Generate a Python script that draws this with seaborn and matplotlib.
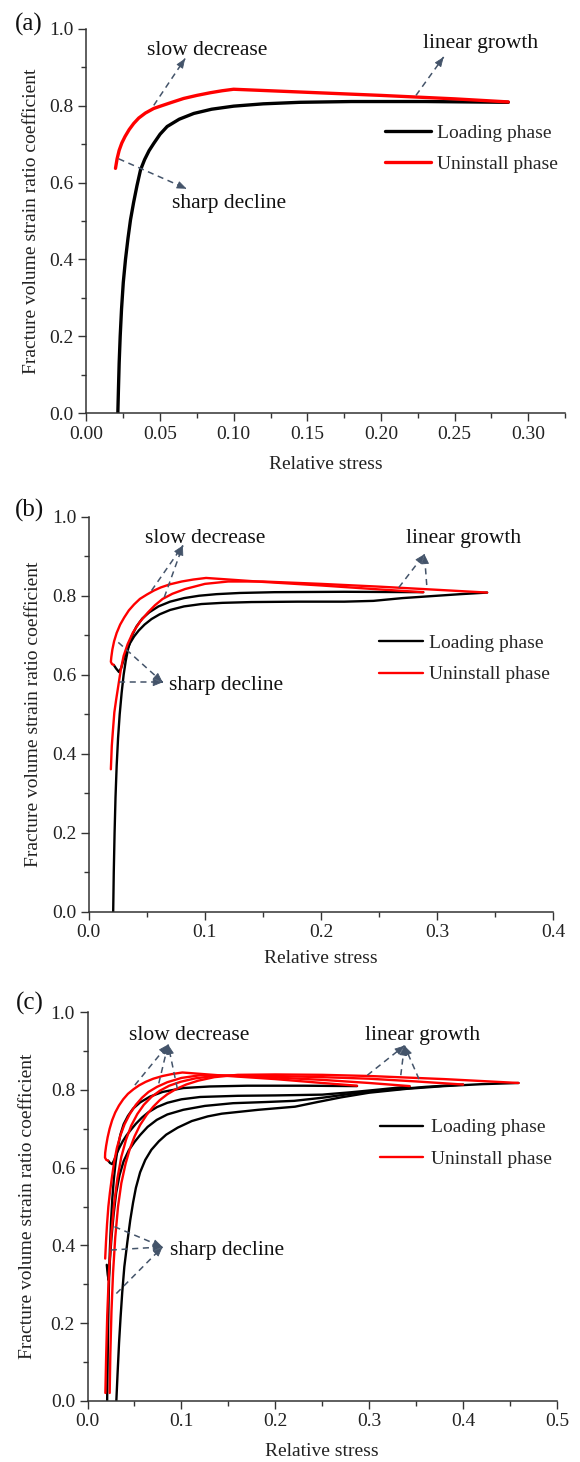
import numpy as np
import pandas as pd
import matplotlib
matplotlib.use("Agg")
import matplotlib.pyplot as plt
import seaborn as sns
from matplotlib.lines import Line2D
from matplotlib.ticker import MultipleLocator, FormatStrFormatter

# ---------------- data: panel (a) ----------------
a_load_x = [0.0213, 0.0217, 0.0222, 0.0229, 0.0238, 0.0250, 0.0265, 0.0282, 0.0299, 0.0320, 0.0343, 0.0367,
            0.0395, 0.0425, 0.0457, 0.0500, 0.0548, 0.0630, 0.0729, 0.0850, 0.1000, 0.1200, 0.1450, 0.1800,
            0.2300, 0.2865]
a_load_y = [0.000, 0.060, 0.130, 0.200, 0.270, 0.340, 0.400, 0.455, 0.503, 0.548, 0.592, 0.633,
            0.660, 0.683, 0.702, 0.726, 0.746, 0.765, 0.780, 0.791, 0.799, 0.805, 0.809, 0.811,
            0.811, 0.809]
a_unl_x = [0.2865, 0.2500, 0.2000, 0.1500, 0.0999, 0.0920, 0.0842, 0.0750, 0.0660, 0.0580, 0.0510, 0.0457,
           0.0400, 0.0355, 0.0321, 0.0290, 0.0262, 0.0240, 0.0222, 0.0208, 0.0197]
a_unl_y = [0.810, 0.818, 0.827, 0.835, 0.843, 0.839, 0.834, 0.827, 0.819, 0.809, 0.800, 0.793,
           0.781, 0.768, 0.754, 0.738, 0.720, 0.703, 0.684, 0.662, 0.637]

# ---------------- data: panel (b) ----------------
b_l1_x = [0.0210, 0.0215, 0.0222, 0.0230, 0.0240, 0.0252, 0.0266, 0.0283, 0.0300, 0.0318, 0.0340, 0.0370,
          0.0410, 0.0460, 0.0520, 0.0600, 0.0700, 0.0820, 0.0950, 0.1100, 0.1300, 0.1600, 0.2200, 0.2880]
b_l1_y = [0.000, 0.100, 0.200, 0.290, 0.370, 0.440, 0.500, 0.555, 0.600, 0.635, 0.668, 0.698,
          0.722, 0.742, 0.758, 0.773, 0.785, 0.794, 0.800, 0.804, 0.807, 0.809, 0.810, 0.809]
b_u1_x = [0.2880, 0.2500, 0.2000, 0.1500, 0.1010, 0.0900, 0.0800, 0.0700, 0.0620, 0.0560, 0.0500, 0.0440,
          0.0390, 0.0345, 0.0305, 0.0270, 0.0240, 0.0218, 0.0203, 0.0194, 0.0190, 0.0200, 0.0215]
b_u1_y = [0.809, 0.816, 0.826, 0.835, 0.845, 0.841, 0.836, 0.829, 0.821, 0.813, 0.803, 0.792,
          0.778, 0.763, 0.745, 0.727, 0.706, 0.685, 0.664, 0.645, 0.633, 0.627, 0.625]
b_l2_x = [0.0215, 0.0235, 0.0260, 0.0280, 0.0300, 0.0325, 0.0355, 0.0390, 0.0430, 0.0480, 0.0540, 0.0610,
          0.0700, 0.0820, 0.0970, 0.1150, 0.1400, 0.1800, 0.2200, 0.2450, 0.2700, 0.3000, 0.3200, 0.3430]
b_l2_y = [0.625, 0.616, 0.607, 0.618, 0.638, 0.660, 0.680, 0.697, 0.712, 0.727, 0.741, 0.753,
          0.764, 0.773, 0.779, 0.782, 0.784, 0.785, 0.785, 0.787, 0.794, 0.800, 0.804, 0.808]
b_u2_x = [0.3430, 0.3000, 0.2500, 0.2000, 0.1500, 0.1200, 0.1000, 0.0830, 0.0720, 0.0636, 0.0570, 0.0510,
          0.0440, 0.0380, 0.0335, 0.0300, 0.0275, 0.0254, 0.0236, 0.0220, 0.0208, 0.0198, 0.0190]
b_u2_y = [0.808, 0.815, 0.823, 0.830, 0.836, 0.836, 0.830, 0.817, 0.805, 0.792, 0.776, 0.758,
          0.734, 0.707, 0.678, 0.648, 0.612, 0.572, 0.538, 0.505, 0.460, 0.420, 0.361]

# ---------------- data: panel (c) ----------------
c_l1_x = [0.0209, 0.0214, 0.0220, 0.0228, 0.0238, 0.0250, 0.0264, 0.0280, 0.0300, 0.0322, 0.0350, 0.0385,
          0.0430, 0.0485, 0.0560, 0.0666, 0.0800, 0.1020, 0.1300, 0.1700, 0.2300, 0.2870]
c_l1_y = [0.000, 0.100, 0.200, 0.300, 0.390, 0.460, 0.520, 0.570, 0.615, 0.652, 0.685, 0.712,
          0.733, 0.752, 0.768, 0.783, 0.795, 0.805, 0.809, 0.811, 0.811, 0.810]
c_u1_x = [0.2870, 0.2500, 0.2000, 0.1500, 0.1010, 0.0900, 0.0800, 0.0700, 0.0620, 0.0550, 0.0490, 0.0430,
          0.0380, 0.0335, 0.0295, 0.0262, 0.0235, 0.0214, 0.0198, 0.0188, 0.0186, 0.0200, 0.0220]
c_u1_y = [0.811, 0.818, 0.828, 0.836, 0.845, 0.841, 0.836, 0.829, 0.821, 0.812, 0.802, 0.790,
          0.776, 0.760, 0.742, 0.722, 0.700, 0.678, 0.656, 0.638, 0.626, 0.620, 0.618]
c_l2_x = [0.0220, 0.0240, 0.0262, 0.0285, 0.0310, 0.0340, 0.0375, 0.0415, 0.0460, 0.0515, 0.0580, 0.0650,
          0.0740, 0.0850, 0.1000, 0.1200, 0.1600, 0.2000, 0.2500, 0.2800, 0.3100, 0.3430]
c_l2_y = [0.618, 0.612, 0.609, 0.620, 0.636, 0.652, 0.668, 0.683, 0.697, 0.713, 0.729, 0.743,
          0.756, 0.767, 0.776, 0.782, 0.785, 0.786, 0.788, 0.794, 0.801, 0.809]
c_u2_x = [0.3430, 0.3000, 0.2500, 0.2000, 0.1500, 0.1200, 0.1000, 0.0850, 0.0740, 0.0650, 0.0580, 0.0515,
          0.0450, 0.0395, 0.0350, 0.0312, 0.0282, 0.0258, 0.0238, 0.0222, 0.0208, 0.0197, 0.0188]
c_u2_y = [0.810, 0.818, 0.826, 0.832, 0.837, 0.838, 0.831, 0.820, 0.808, 0.795, 0.780, 0.762,
          0.738, 0.712, 0.683, 0.650, 0.612, 0.572, 0.535, 0.500, 0.455, 0.410, 0.366]
c_l3_x = [0.0205, 0.0215, 0.0225, 0.0238, 0.0255, 0.0278, 0.0305, 0.0340, 0.0385, 0.0440, 0.0500, 0.0560,
          0.0640, 0.0737, 0.0850, 0.1020, 0.1250, 0.1550, 0.1900, 0.2200, 0.2500, 0.2800, 0.3200, 0.3600,
          0.4000]
c_l3_y = [0.350, 0.325, 0.310, 0.360, 0.420, 0.480, 0.535, 0.580, 0.617, 0.645, 0.666, 0.684,
          0.705, 0.723, 0.737, 0.749, 0.759, 0.766, 0.769, 0.772, 0.780, 0.790, 0.800, 0.808,
          0.814]
c_u3_x = [0.4000, 0.3500, 0.3000, 0.2500, 0.2000, 0.1600, 0.1350, 0.1150, 0.0990, 0.0870, 0.0770, 0.0680,
          0.0600, 0.0530, 0.0465, 0.0410, 0.0360, 0.0318, 0.0282, 0.0252, 0.0228, 0.0210, 0.0198, 0.0190]
c_u3_y = [0.814, 0.822, 0.829, 0.833, 0.836, 0.838, 0.836, 0.830, 0.821, 0.811, 0.798, 0.782,
          0.762, 0.738, 0.708, 0.672, 0.628, 0.572, 0.505, 0.425, 0.330, 0.220, 0.110, 0.020]
c_l4_x = [0.0307, 0.0320, 0.0336, 0.0352, 0.0370, 0.0392, 0.0425, 0.0455, 0.0485, 0.0515, 0.0560, 0.0615,
          0.0680, 0.0760, 0.0838, 0.0960, 0.1110, 0.1280, 0.1430, 0.1820, 0.2210, 0.2450, 0.2700, 0.3000,
          0.3400, 0.3800, 0.4200, 0.4590]
c_l4_y = [0.000, 0.070, 0.150, 0.215, 0.280, 0.345, 0.410, 0.465, 0.510, 0.548, 0.588, 0.620,
          0.646, 0.668, 0.685, 0.703, 0.720, 0.732, 0.739, 0.749, 0.757, 0.769, 0.781, 0.793,
          0.803, 0.810, 0.815, 0.818]
c_u4_x = [0.4590, 0.4200, 0.3800, 0.3400, 0.3000, 0.2500, 0.2000, 0.1600, 0.1350, 0.1180, 0.1050, 0.0940,
          0.0850, 0.0770, 0.0700, 0.0630, 0.0560, 0.0500, 0.0450, 0.0405, 0.0360, 0.0325, 0.0295, 0.0272,
          0.0255, 0.0243, 0.0236]
c_u4_y = [0.818, 0.823, 0.828, 0.832, 0.836, 0.839, 0.840, 0.839, 0.833, 0.824, 0.814, 0.802,
          0.789, 0.774, 0.757, 0.736, 0.710, 0.680, 0.648, 0.610, 0.560, 0.500, 0.420, 0.330,
          0.230, 0.120, 0.020]

phase_names = ["Loading phase", "Uninstall phase"]
x_label = "Relative stress"
y_label = "Fracture volume strain ratio coefficient"
panel_tags = ["(a)", "(b)", "(c)"]

# annotations: (text, text_xy, [(tail, head), ...])
ann_a = [("slow decrease", (0.082, 0.944), [((0.0457, 0.801), (0.067, 0.923))]),
         ("linear growth", (0.268, 0.962), [((0.2238, 0.827), (0.2426, 0.927))]),
         ("sharp decline", (0.097, 0.545), [((0.0218, 0.662), (0.068, 0.584))])]
ann_b = [("slow decrease", (0.100, 0.945), [((0.054, 0.813), (0.081, 0.927)), ((0.065, 0.796), (0.081, 0.927))]),
         ("linear growth", (0.323, 0.945), [((0.267, 0.821), (0.289, 0.905)), ((0.291, 0.827), (0.289, 0.905))]),
         ("sharp decline", (0.118, 0.572), [((0.0254, 0.682), (0.0636, 0.581)), ((0.026, 0.581), (0.0636, 0.581))])]
ann_c = [("slow decrease", (0.108, 0.941), [((0.0504, 0.8125), (0.0858, 0.917)), ((0.0759, 0.817), (0.0858, 0.917)),
                                            ((0.0956, 0.804), (0.0858, 0.917))]),
         ("linear growth", (0.357, 0.941), [((0.298, 0.838), (0.3375, 0.914)), ((0.3336, 0.838), (0.3375, 0.914)),
                                            ((0.353, 0.828), (0.3375, 0.914))]),
         ("sharp decline", (0.149, 0.388), [((0.0287, 0.448), (0.0799, 0.396)), ((0.0248, 0.388), (0.0799, 0.396)),
                                            ((0.0307, 0.276), (0.0799, 0.396))])]

# ---------------- styling ----------------
sns.set_theme(style="ticks")
plt.rcParams["font.family"] = ["Liberation Serif", "DejaVu Serif"]
plt.rcParams["axes.linewidth"] = 1.1
plt.rcParams["axes.edgecolor"] = "#333333"

FS = 14
FS_ANN = 15.5
ANN_COLOR = "#44546a"
palette = {phase_names[0]: "black", phase_names[1]: "#ff0000"}


def build_df(segments):
    frames = []
    for i, (phase, xs, ys) in enumerate(segments):
        frames.append(pd.DataFrame({"x": xs, "y": ys, "phase": phase, "segment": f"s{i}"}))
    return pd.concat(frames, ignore_index=True)


df_a = build_df([(phase_names[0], a_load_x, a_load_y), (phase_names[1], a_unl_x, a_unl_y)])
df_b = build_df([(phase_names[0], b_l1_x, b_l1_y), (phase_names[1], b_u1_x, b_u1_y),
                 (phase_names[0], b_l2_x, b_l2_y), (phase_names[1], b_u2_x, b_u2_y)])
df_c = build_df([(phase_names[0], c_l1_x, c_l1_y), (phase_names[1], c_u1_x, c_u1_y),
                 (phase_names[0], c_l2_x, c_l2_y), (phase_names[1], c_u2_x, c_u2_y),
                 (phase_names[0], c_l3_x, c_l3_y), (phase_names[1], c_u3_x, c_u3_y),
                 (phase_names[0], c_l4_x, c_l4_y), (phase_names[1], c_u4_x, c_u4_y)])

fig = plt.figure(figsize=(5.8, 14.62), dpi=100)

panels = [
    dict(df=df_a, rect=[0.1491, 0.7175, 0.8250, 0.2627], xmax=0.325, xmaj=0.05, xmin=0.025, xfmt="%.2f",
         lw=2.4, ann=ann_a, leg_anchor=(0.623, 0.752), hl=2.4, hp=0.3, xl=-0.135, yl=-0.115,
         tag_xy=(29, 24)),
    dict(df=df_b, rect=[0.1531, 0.3762, 0.8009, 0.2704], xmax=0.4, xmaj=0.1, xmin=0.05, xfmt="%.1f",
         lw=1.7, ann=ann_b, leg_anchor=(0.624, 0.702), hl=2.3, hp=0.3, xl=-0.117, yl=-0.12,
         tag_xy=(30, 510)),
    dict(df=df_c, rect=[0.1509, 0.0419, 0.8095, 0.2657], xmax=0.5, xmaj=0.1, xmin=0.05, xfmt="%.1f",
         lw=1.7, ann=ann_c, leg_anchor=(0.624, 0.726), hl=2.2, hp=0.4, xl=-0.131, yl=-0.128,
         tag_xy=(30, 1003)),
]

for i, p in enumerate(panels):
    ax = fig.add_axes(p["rect"])
    sns.lineplot(data=p["df"], x="x", y="y", hue="phase", units="segment", estimator=None, sort=False,
                 palette=palette, linewidth=p["lw"], legend=False, ax=ax)
    ax.set_xlim(0, p["xmax"])
    ax.set_ylim(0, 1.0)
    ax.xaxis.set_major_locator(MultipleLocator(p["xmaj"]))
    ax.xaxis.set_minor_locator(MultipleLocator(p["xmin"]))
    ax.xaxis.set_major_formatter(FormatStrFormatter(p["xfmt"]))
    ax.yaxis.set_major_locator(MultipleLocator(0.2))
    ax.yaxis.set_minor_locator(MultipleLocator(0.1))
    ax.yaxis.set_major_formatter(FormatStrFormatter("%.1f"))
    ax.tick_params(which="major", direction="out", length=6, width=1.0, color="#333333",
                   labelsize=FS, labelcolor="#222222", pad=3)
    ax.tick_params(which="minor", direction="out", length=3.5, width=1.0, color="#333333")
    sns.despine(ax=ax)
    ax.set_xlabel(x_label, fontsize=FS, color="#222222")
    ax.set_ylabel(y_label, fontsize=FS, color="#222222")
    ax.xaxis.set_label_coords(0.5, p["xl"])
    ax.yaxis.set_label_coords(p["yl"], 0.5)
    ax.xaxis.label.set_va("center")
    ax.yaxis.label.set_va("center")

    # annotations
    for text, txy, arrows in p["ann"]:
        ax.text(txy[0], txy[1], text, fontsize=FS_ANN, ha="center", va="center", color="#111111")
        for tail, head in arrows:
            ax.plot([tail[0], head[0]], [tail[1], head[1]], ls=(0, (4, 3)), lw=1.1, color=ANN_COLOR)
            bx = head[0] - (head[0] - tail[0]) * 0.02
            by = head[1] - (head[1] - tail[1]) * 0.02
            ax.annotate("", xy=head, xytext=(bx, by),
                        arrowprops=dict(arrowstyle="-|>,head_length=0.5,head_width=0.2",
                                        color=ANN_COLOR, lw=0.6, shrinkA=0, shrinkB=0))

    handles = [Line2D([], [], color=palette[n], lw=p["lw"]) for n in phase_names]
    ax.legend(handles, phase_names, loc="upper left", bbox_to_anchor=p["leg_anchor"], frameon=False,
              fontsize=FS, borderpad=0, borderaxespad=0, handlelength=p["hl"], handletextpad=p["hp"],
              labelspacing=0.7)

    fig.text(p["tag_xy"][0] / 580, 1 - p["tag_xy"][1] / 1462, panel_tags[i], fontsize=18,
             ha="center", va="center", color="#111111")

fig.savefig("out.png", dpi=100)
